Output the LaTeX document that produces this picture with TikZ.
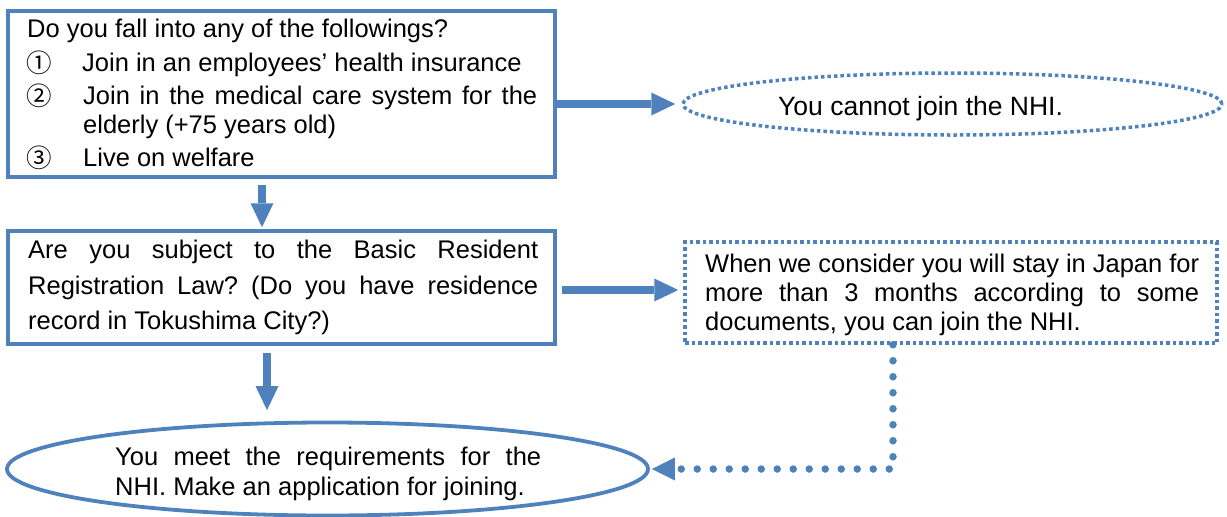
\documentclass[tikz,border=0pt]{standalone}
\usepackage{fontspec}
\setmainfont{Liberation Sans}
\newfontfamily\cjkjp{Noto Sans CJK JP}
\usetikzlibrary{arrows.meta,shapes.geometric,calc}
\definecolor{ob}{HTML}{4F81BD}
\frenchspacing
\begin{document}
\begin{tikzpicture}[x=1pt,y=-1pt,
  boxs/.style={draw=ob, line width=3.5pt, inner sep=0pt, rectangle},
  txt/.style={anchor=base west, inner sep=0pt, font=\fontsize{25.5}{30}\selectfont},
  circd/.style={anchor=base west, inner sep=0pt, font=\fontsize{25.5}{30}\cjkjp},
  bigarrow/.style={draw=ob, line width=8.5pt, -{Triangle[length=24pt,width=23pt,line width=0pt]}},
  dotline/.style={draw=ob, line width=3.5pt, dash pattern=on 3.5pt off 3pt},
  dotconn/.style={draw=ob, line width=7.5pt, line cap=round, dash pattern=on 0pt off 16pt, -{Triangle[length=23pt,width=23pt,line width=0pt]}}]
\useasboundingbox (0,0) rectangle (1227,517);

% shapes
\node[boxs, minimum width=547pt, minimum height=166pt] (b1) at (281.5,94) {};
\node[boxs, minimum width=547pt, minimum height=113pt] (b2) at (281.5,287.5) {};
\node[dotline, rectangle, inner sep=0pt, minimum width=532pt, minimum height=101pt] (b3) at (951,292.5) {};
\node[dotline, ellipse, inner sep=0pt, minimum width=539pt, minimum height=62pt] (e1) at (952.5,104) {};
\node[draw=ob, line width=3.8pt, ellipse, inner sep=0pt, minimum width=641pt, minimum height=93pt] (e2) at (327.5,469) {};

% box 1 text
\node[txt] (t1) at (27,37) {Do you fall into any of the followings?};
\node[circd] (n1) at (26,72) {①};
\node[txt] (t2) at (82,71) {Join in an employees’ health insurance};
\node[circd] (n2) at (26,105) {②};
\node[txt] (t3) at (83,104) {\makebox[454pt][s]{Join in the medical care system for the}};
\node[txt] (t4) at (83,133) {elderly (+75 years old)};
\node[circd] (n3) at (26,167) {③};
\node[txt] (t5) at (83,166) {Live on welfare};

% box 2 text
\node[txt] (s1) at (28,258) {\makebox[510pt][s]{Are you subject to the Basic Resident}};
\node[txt] (s2) at (28,294) {\makebox[510pt][s]{Registration Law? (Do you have residence}};
\node[txt] (s3) at (28,329) {record in Tokushima City?)};

% box 3 text
\node[txt] (r1) at (705,272) {\makebox[494pt][s]{When we consider you will stay in Japan for}};
\node[txt] (r2) at (705,301) {\makebox[494pt][s]{more than 3 months according to some}};
\node[txt] (r3) at (705,330) {documents, you can join the NHI.};

% ellipse texts
\node[txt, font=\fontsize{26.5}{30}\selectfont] (c1) at (778,115) {You cannot join the NHI.};
\node[txt] (m1) at (115,465) {\makebox[426pt][s]{You meet the requirements for the}};
\node[txt] (m2) at (115,495) {NHI. Make an application for joining.};

% connectors
\draw[bigarrow] (b1.east |- e1.west) -- ($(e1.west)+(-6,0)$);
\draw[bigarrow] ($(b2.east)+(5,2.5)$) -- ($(b2.east -| b3.west)+(-5,2.5)$);
\draw[bigarrow] ($(b1.south)+(-19.5,6)$) -- ($(b2.north)+(-19.5,-2)$);
\draw[bigarrow] ($(b2.south)+(-14.5,7)$) -- ($(e2.north -| b2.south)+(-14.5,-10.5)$);
\draw[dotconn] ($(b3.south)+(-58,0)$) |- ($(e2.east)+(2,0)$);
\end{tikzpicture}
\end{document}
